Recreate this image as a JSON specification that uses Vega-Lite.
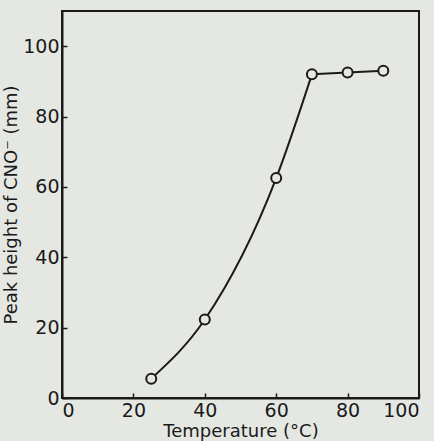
{
  "$schema": "https://vega.github.io/schema/vega-lite/v6.json",
  "width": 357,
  "height": 387,
  "autosize": {"type": "none"},
  "padding": {"left": 62, "top": 11, "right": 15, "bottom": 43},
  "background": "#e5e8e2",
  "config": {
    "view": {"stroke": "#1a1a1a", "strokeWidth": 2},
    "font": "DejaVu Sans",
    "axis": {
      "grid": false,
      "domainColor": "#1a1a1a",
      "domainWidth": 2,
      "tickColor": "#1a1a1a",
      "tickWidth": 1.5,
      "labelColor": "#1a1a1a",
      "titleColor": "#1a1a1a",
      "labelFontSize": 19,
      "titleFontSize": 18,
      "titleFontWeight": "normal"
    }
  },
  "data": {
    "values": [
      {"temp": 25, "peak": 5.5},
      {"temp": 40, "peak": 22.3},
      {"temp": 60, "peak": 62.5},
      {"temp": 70, "peak": 92},
      {"temp": 80, "peak": 92.5},
      {"temp": 90, "peak": 93}
    ]
  },
  "encoding": {
    "x": {
      "field": "temp",
      "type": "quantitative",
      "scale": {"domain": [0, 100], "nice": false},
      "axis": {"values": [0, 20, 40, 60, 80, 100], "tickSize": -5, "labelPadding": 8, "title": "Temperature (°C)", "titlePadding": 2}
    },
    "y": {
      "field": "peak",
      "type": "quantitative",
      "scale": {"domain": [0, 110], "nice": false},
      "axis": {"values": [0, 20, 40, 60, 80, 100], "tickSize": -5, "labelPadding": 8, "title": "Peak height of CNO⁻ (mm)", "titlePadding": 2}
    }
  },
  "layer": [
    {
      "transform": [{"filter": "datum.temp <= 70"}],
      "mark": {"type": "line", "interpolate": "monotone", "color": "#1a1a1a", "strokeWidth": 2}
    },
    {
      "transform": [{"filter": "datum.temp >= 70"}],
      "mark": {"type": "line", "color": "#1a1a1a", "strokeWidth": 2}
    },
    {
      "mark": {"type": "point", "shape": "circle", "filled": true, "fill": "#e5e8e2", "stroke": "#1a1a1a", "strokeWidth": 2, "size": 100, "opacity": 1}
    }
  ]
}
